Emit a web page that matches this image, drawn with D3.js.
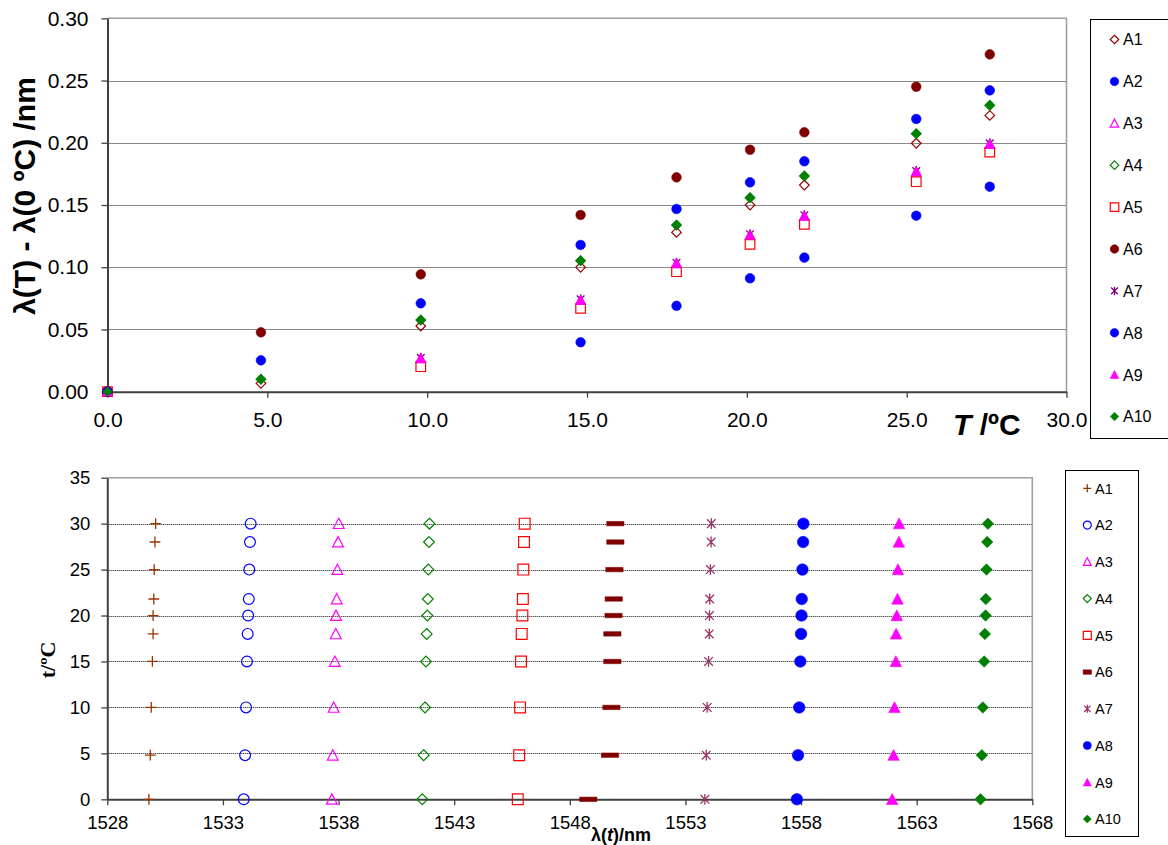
<!DOCTYPE html>
<html>
<head>
<meta charset="utf-8">
<script src="https://cdn.jsdelivr.net/npm/d3@7"></script>
<style>
  html, body { margin: 0; padding: 0; background: #fff; }
  svg { display: block; font-family: "Liberation Sans", Arial, Helvetica, sans-serif; }
</style>
</head>
<body>
<svg id="chart" width="1168" height="845"></svg>
<script>
// ---------- data ----------
const seriesNames = ["A1", "A2", "A3", "A4", "A5", "A6", "A7", "A8", "A9", "A10"];

// Upper panel: wavelength shift λ(T) - λ(0 °C) in nm versus temperature
const shiftTemps = [0, 4.8, 9.8, 14.8, 17.8, 20.1, 21.8, 25.3, 27.6];
const shiftA1  = [0, 0.0067, 0.0528, 0.0999, 0.1280, 0.1500, 0.1660, 0.1996, 0.2220];
const shiftA2  = [0, 0.0252, 0.0710, 0.1179, 0.1468, 0.1682, 0.1851, 0.2191, 0.2421];
const shiftA3  = [0, null,   0.0268, 0.0737, 0.1031, 0.1259, 0.1412, 0.1768, 0.1990];
const shiftA4  = [0, 0.0100, 0.0576, 0.1053, 0.1339, 0.1559, 0.1733, 0.2073, 0.2301];
const shiftA5  = [0, null,   0.0201, 0.0670, 0.0964, 0.1184, 0.1345, 0.1687, 0.1925];
const shiftA6  = [0, 0.0477, 0.0943, 0.1420, 0.1722, 0.1944, 0.2084, 0.2450, 0.2710];
const shiftA7  = [0, null,   0.0272, 0.0742, 0.1036, 0.1265, 0.1418, 0.1772, 0.1995];
const shiftA8  = [0, null,   null,   0.0397, 0.0690, 0.0911, 0.1077, 0.1414, 0.1647];
const shiftA9  = [0, null,   0.0268, 0.0737, 0.1031, 0.1259, 0.1412, 0.1768, 0.1990];
const shiftA10 = [0, 0.0100, 0.0576, 0.1053, 0.1339, 0.1559, 0.1733, 0.2073, 0.2301];
const shiftTicksX = [0, 5, 10, 15, 20, 25, 30];
const shiftTicksY = [0, 0.05, 0.10, 0.15, 0.20, 0.25, 0.30];

// Lower panel: Bragg wavelength λ(t) in nm of each grating at temperature t
const gratingTemps = [0, 4.8, 10, 15, 18, 20, 21.8, 25, 28, 30];
const lambdaA1  = [1529.80, 1529.86, 1529.90, 1529.95, 1529.98, 1529.98, 1530.01, 1530.03, 1530.06, 1530.09];
const lambdaA2  = [1533.90, 1533.96, 1534.00, 1534.04, 1534.07, 1534.09, 1534.12, 1534.14, 1534.17, 1534.20];
const lambdaA3  = [1537.71, 1537.75, 1537.79, 1537.84, 1537.88, 1537.89, 1537.92, 1537.95, 1537.98, 1538.01];
const lambdaA4  = [1541.62, 1541.68, 1541.74, 1541.78, 1541.81, 1541.84, 1541.86, 1541.88, 1541.91, 1541.93];
const lambdaA5  = [1545.75, 1545.81, 1545.85, 1545.89, 1545.92, 1545.95, 1545.97, 1545.99, 1546.02, 1546.05];
const lambdaA6  = [1548.80, 1549.74, 1549.80, 1549.84, 1549.84, 1549.89, 1549.90, 1549.93, 1549.97, 1549.97];
const lambdaA7  = [1553.84, 1553.90, 1553.94, 1554.00, 1554.03, 1554.04, 1554.05, 1554.08, 1554.11, 1554.12];
const lambdaA8  = [1557.82, 1557.87, 1557.92, 1557.97, 1558.00, 1558.02, 1558.03, 1558.06, 1558.09, 1558.10];
const lambdaA9  = [1561.94, 1562.00, 1562.04, 1562.10, 1562.11, 1562.14, 1562.17, 1562.19, 1562.23, 1562.24];
const lambdaA10 = [1565.76, 1565.82, 1565.86, 1565.92, 1565.95, 1565.98, 1565.99, 1566.02, 1566.05, 1566.08];
const lambdaTicksX = [1528, 1533, 1538, 1543, 1548, 1553, 1558, 1563, 1568];
const tempTicksY = [0, 5, 10, 15, 20, 25, 30, 35];

const shiftSeries = [shiftA1, shiftA2, shiftA3, shiftA4, shiftA5, shiftA6, shiftA7, shiftA8, shiftA9, shiftA10];
const lambdaSeries = [lambdaA1, lambdaA2, lambdaA3, lambdaA4, lambdaA5, lambdaA6, lambdaA7, lambdaA8, lambdaA9, lambdaA10];

// ---------- marker styles ----------
const upperStyles = [
  { shape: "diamond",  fill: false, color: "#990000" },
  { shape: "circle",   fill: true,  color: "#0000FF" },
  { shape: "triangle", fill: false, color: "#FF00FF" },
  { shape: "diamond",  fill: false, color: "#008000" },
  { shape: "square",   fill: false, color: "#FF0000" },
  { shape: "circle",   fill: true,  color: "#800000" },
  { shape: "star",     fill: false, color: "#800080" },
  { shape: "circle",   fill: true,  color: "#0000FF" },
  { shape: "triangle", fill: true,  color: "#FF00FF" },
  { shape: "diamond",  fill: true,  color: "#008000" }
];
const lowerStyles = [
  { shape: "plus",     fill: false, color: "#993300" },
  { shape: "circle",   fill: false, color: "#0000FF" },
  { shape: "triangle", fill: false, color: "#FF00FF" },
  { shape: "diamond",  fill: false, color: "#008000" },
  { shape: "square",   fill: false, color: "#FF0000" },
  { shape: "dash",     fill: true,  color: "#800000" },
  { shape: "star",     fill: false, color: "#993366" },
  { shape: "circle",   fill: true,  color: "#0000FF" },
  { shape: "triangle", fill: true,  color: "#FF00FF" },
  { shape: "diamond",  fill: true,  color: "#008000" }
];

function markerPath(shape, s) {
  const h = s / 2;
  switch (shape) {
    case "diamond":  return `M0,${-h}L${h},0L0,${h}L${-h},0Z`;
    case "square":   return `M${-h},${-h}H${h}V${h}H${-h}Z`;
    case "triangle": return `M0,${-h}L${h},${h * 0.9}L${-h},${h * 0.9}Z`;
    case "circle":   return d3.symbol(d3.symbolCircle, Math.PI * h * h)();
    case "plus":     return `M${-h},0H${h}M0,${-h}V${h}`;
    case "star":     return `M${-h * 0.8},${-h * 0.8}L${h * 0.8},${h * 0.8}M${-h * 0.8},${h * 0.8}L${h * 0.8},${-h * 0.8}M0,${-h}V${h}`;
    case "dash":     return `M${-s * 0.75},-2.2H${s * 0.75}V2.2H${-s * 0.75}Z`;
  }
}

function drawMarker(sel, style, s) {
  const lineOnly = style.shape === "plus" || style.shape === "star";
  sel.append("path")
    .attr("d", markerPath(style.shape, s))
    .attr("fill", style.fill ? style.color : "none")
    .attr("stroke", style.color)
    .attr("stroke-width", lineOnly ? 1.3 : (style.fill ? 0.6 : 1.2));
}

const svg = d3.select("#chart");
svg.append("rect").attr("width", 1168).attr("height", 845).attr("fill", "#fff");

// ---------- shared panel builder ----------
function panel(opt) {
  const g = svg.append("g");
  const x = d3.scaleLinear().domain(opt.xDomain).range(opt.xRange);
  const y = d3.scaleLinear().domain(opt.yDomain).range(opt.yRange);
  const [x0, x1] = opt.xRange;
  const [yb, yt] = opt.yRange;

  // dotted horizontal gridlines
  g.append("g")
    .selectAll("line")
    .data(opt.yTicks.filter(v => v > opt.yDomain[0] && v < opt.yDomain[1]))
    .join("line")
    .attr("x1", x0).attr("x2", x1)
    .attr("y1", d => Math.round(y(d)) + 0.5).attr("y2", d => Math.round(y(d)) + 0.5)
    .attr("stroke", "#111").attr("stroke-width", 1).attr("stroke-dasharray", "1,1");

  // plot-area frame (top and right edges)
  g.append("path")
    .attr("d", `M${x0},${yt}H${x1}V${yb}`)
    .attr("fill", "none").attr("stroke", "#A0A0A0").attr("stroke-width", 1.6);

  // axes
  const yAxis = d3.axisLeft(y).tickValues(opt.yTicks).tickFormat(opt.yFormat)
    .tickSizeInner(6).tickSizeOuter(0).tickPadding(opt.yPad);
  const xAxis = d3.axisBottom(x).tickValues(opt.xTicks).tickFormat(opt.xFormat)
    .tickSizeInner(6).tickSizeOuter(0).tickPadding(opt.xPad);

  const ya = g.append("g").attr("transform", `translate(${x0},0)`).call(yAxis);
  const xa = g.append("g").attr("transform", `translate(0,${yb})`).call(xAxis);
  [ya, xa].forEach(a => {
    a.select(".domain").attr("stroke", "#404040").attr("stroke-width", 2);
    a.selectAll(".tick line").attr("stroke", "#404040").attr("stroke-width", 1.3);
    a.selectAll(".tick text").attr("fill", "#000").attr("font-size", opt.tickFont)
      .attr("font-family", '"Liberation Sans", Arial, sans-serif');
  });

  // markers, series drawn in order so later ones sit on top
  opt.series.forEach((vals, i) => {
    const pts = vals.map((v, k) => opt.pointOf(v, k)).filter(p => p !== null);
    const sg = g.append("g").attr("class", "series-" + seriesNames[i]);
    pts.forEach(p => {
      const m = sg.append("g").attr("transform", `translate(${x(p[0])},${y(p[1])})`);
      drawMarker(m, opt.styles[i], opt.markerSize(opt.styles[i]));
    });
  });
  return { g, x, y };
}

// ---------- upper panel ----------
panel({
  xDomain: [0, 30], xRange: [107.5, 1066.5],
  yDomain: [0, 0.30], yRange: [391.7, 18.3],
  xTicks: shiftTicksX, yTicks: shiftTicksY,
  xFormat: d3.format(".1f"), yFormat: d3.format(".2f"),
  xPad: 14, yPad: 13, tickFont: 21,
  series: shiftSeries, styles: upperStyles,
  pointOf: (v, k) => v === null ? null : [shiftTemps[k], v],
  markerSize: () => 9.6
});

// upper axis titles
svg.append("text")
  .attr("transform", "translate(35,196) rotate(-90)")
  .attr("text-anchor", "middle").attr("font-size", 30).attr("font-weight", "bold")
  .text("λ(T) - λ(0 ºC) /nm");
const tTitle = svg.append("text").attr("x", 953).attr("y", 435)
  .attr("font-size", 30).attr("font-weight", "bold");
tTitle.append("tspan").attr("font-style", "italic").text("T");
tTitle.append("tspan").text(" /ºC");

// upper legend
const leg1 = svg.append("g");
leg1.append("rect").attr("x", 1090.5).attr("y", 19.5).attr("width", 100).attr("height", 419)
  .attr("fill", "#fff").attr("stroke", "#000").attr("stroke-width", 1);
seriesNames.forEach((name, i) => {
  const cy = 39.5 + i * 41.9;
  const m = leg1.append("g").attr("transform", `translate(1114.5,${cy})`);
  drawMarker(m, upperStyles[i], 8.5);
  leg1.append("text").attr("x", 1123).attr("y", cy + 5.8).attr("font-size", 16).text(name);
});

// ---------- lower panel ----------
panel({
  xDomain: [1528, 1568], xRange: [107.3, 1032.3],
  yDomain: [0, 35], yRange: [799.3, 477.7],
  xTicks: lambdaTicksX, yTicks: tempTicksY,
  xFormat: d3.format("d"), yFormat: d3.format("d"),
  xPad: 11, yPad: 11, tickFont: 18.5,
  series: lambdaSeries, styles: lowerStyles,
  pointOf: (v, k) => v === null ? null : [v, gratingTemps[k]],
  markerSize: st => st.fill ? 11.5 : 10.8
});

// lower axis titles
svg.append("text")
  .attr("transform", "translate(55,660) rotate(-90)")
  .attr("text-anchor", "middle").attr("font-size", 22).attr("font-weight", "bold")
  .attr("font-family", '"Liberation Serif", "Times New Roman", serif')
  .text("t/ºC");
const lTitle = svg.append("text").attr("x", 621).attr("y", 841)
  .attr("text-anchor", "middle").attr("font-size", 18).attr("font-weight", "bold");
lTitle.append("tspan").text("λ(");
lTitle.append("tspan").attr("font-style", "italic").text("t");
lTitle.append("tspan").text(")/nm");

// lower legend
const leg2 = svg.append("g");
leg2.append("rect").attr("x", 1065.5).attr("y", 470.5).attr("width", 73).attr("height", 366)
  .attr("fill", "#fff").attr("stroke", "#000").attr("stroke-width", 1);
seriesNames.forEach((name, i) => {
  const cy = 488.3 + i * 36.75;
  const m = leg2.append("g").attr("transform", `translate(1087.3,${cy})`);
  drawMarker(m, lowerStyles[i], lowerStyles[i].shape === "dash" ? 5.5 : 8);
  leg2.append("text").attr("x", 1095).attr("y", cy + 5.2).attr("font-size", 14.5).text(name);
});
</script>
</body>
</html>
